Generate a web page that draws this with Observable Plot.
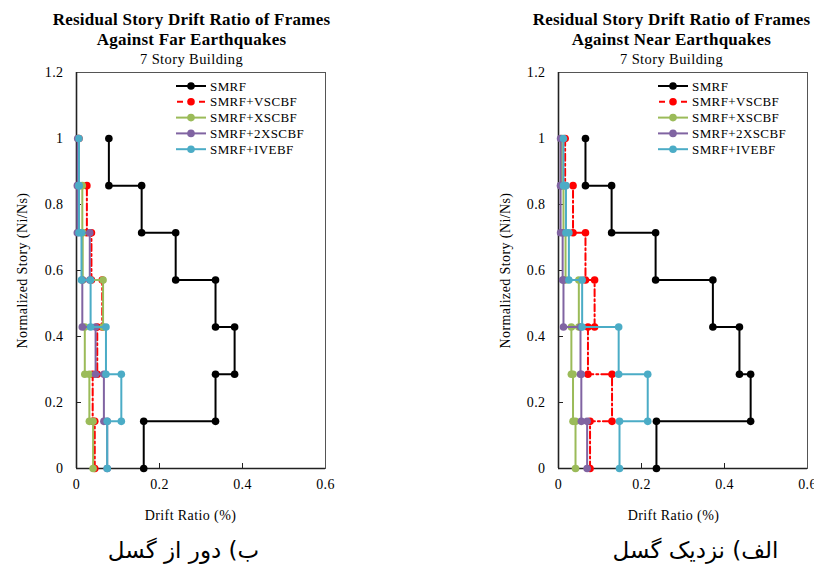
<!DOCTYPE html>
<html><head><meta charset="utf-8">
<script src="https://cdn.jsdelivr.net/npm/d3@7"></script>
<script src="https://cdn.jsdelivr.net/npm/@observablehq/plot@0.6"></script>
<style>
body{margin:0;background:#fff;}
#wrap{display:flex;width:814px;height:568px;overflow:hidden;background:#fff;}
#wrap svg{flex:none;overflow:visible;}
</style></head><body><div id="wrap"></div>
<script>
// ---------------- data ----------------
const storyCount = 7;
const seriesNames = ["SMRF", "SMRF+VSCBF", "SMRF+XSCBF", "SMRF+2XSCBF", "SMRF+IVEBF"];
const seriesColors = ["#000000", "#FF0000", "#9BBB59", "#8064A2", "#4BACC6"];
const seriesDash = [null, "7,3,2,3", null, null, null];

// residual drift ratio (%) per story 1..7 — far-field earthquakes
const farSMRF   = [0.162, 0.335, 0.381, 0.335, 0.239, 0.157, 0.078];
const farVSCBF  = [0.044, 0.039, 0.050, 0.062, 0.036, 0.025, 0.006];
const farXSCBF  = [0.040, 0.031, 0.020, 0.064, 0.015, 0.014, 0.004];
const far2XSCBF = [0.074, 0.066, 0.046, 0.014, 0.032, 0.002, 0.003];
const farIVEBF  = [0.074, 0.108, 0.071, 0.034, 0.012, 0.006, 0.006];

// near-field earthquakes
const nearSMRF   = [0.236, 0.463, 0.436, 0.372, 0.234, 0.128, 0.065];
const nearVSCBF  = [0.076, 0.129, 0.071, 0.087, 0.065, 0.035, 0.016];
const nearXSCBF  = [0.041, 0.035, 0.031, 0.049, 0.017, 0.012, 0.008];
const near2XSCBF = [0.069, 0.055, 0.053, 0.012, 0.010, 0.005, 0.005];
const nearIVEBF  = [0.147, 0.215, 0.145, 0.057, 0.025, 0.018, 0.012];

const xTicks = [0, 0.2, 0.4, 0.6];
const xTickLabels = ["0", "0.2", "0.4", "0.6"];
const yTicks = [0, 0.2, 0.4, 0.6, 0.8, 1, 1.2];
const yTickLabels = ["0", "0.2", "0.4", "0.6", "0.8", "1", "1.2"];

const titleLine1 = "Residual Story Drift Ratio of Frames";
const farTitle2 = "Against Far Earthquakes";
const nearTitle2 = "Against Near Earthquakes";
const subtitle = "7 Story Building";
const xLabel = "Drift Ratio (%)";
const yLabel = "Normalized Story (Ni/Ns)";
const farCaption = "ب) دور از گسل";
const nearCaption = "الف) نزدیک گسل";

// ---------------- helpers ----------------
const SERIF = "'Liberation Serif', 'Times New Roman', serif";

function stepRows(drifts) {
  const rows = [];
  drifts.forEach((d, i) => {
    rows.push({x: d, y: i / storyCount});
    rows.push({x: d, y: (i + 1) / storyCount});
  });
  return rows;
}

function innerTicks(index, {x, y}, values, dims) {
  const g = d3.create("svg:g").attr("stroke", "#222").attr("stroke-width", 1);
  const yb = dims.height - dims.marginBottom, xl = dims.marginLeft;
  for (const t of xTicks.slice(1, -1))
    g.append("line").attr("x1", Math.round(x(t)) + 0.5).attr("x2", Math.round(x(t)) + 0.5).attr("y1", yb).attr("y2", yb - 5);
  for (const t of yTicks.slice(1, -1))
    g.append("line").attr("y1", Math.round(y(t)) + 0.5).attr("y2", Math.round(y(t)) + 0.5).attr("x1", xl).attr("x2", xl + 5);
  return g.node();
}

function legendMark(index, scales, values, dims) {
  const g = d3.create("svg:g");
  const x0 = dims.marginLeft + 100, x1 = x0 + 30, top = dims.marginTop + 14, step = 15.8;
  seriesNames.forEach((name, i) => {
    const yy = top + i * step;
    const line = g.append("line").attr("x1", x0).attr("x2", x1).attr("y1", yy).attr("y2", yy)
      .attr("stroke", seriesColors[i]).attr("stroke-width", 2);
    if (seriesDash[i]) line.attr("stroke-dasharray", "6,5").attr("stroke-dashoffset", -1);
    g.append("circle").attr("cx", (x0 + x1) / 2).attr("cy", yy).attr("r", 3.8).attr("fill", seriesColors[i]);
    g.append("text").attr("x", x1 + 4).attr("y", yy).attr("dy", "0.35em")
      .attr("text-anchor", "start")
      .attr("font-family", SERIF).attr("font-size", 13).attr("fill", "#000").text(name);
  });
  return g.node();
}

function panel({series, title2, caption, marginLeft, marginRight, titleDx, labelDx, captionDx, yLabelDx}) {
  const marks = [
    Plot.frame({stroke: "#555", strokeWidth: 1}),
    Plot.ruleY([0], {stroke: "#222", strokeWidth: 1.6}),
    Plot.ruleX([0], {stroke: "#222", strokeWidth: 1.6}),
    innerTicks,
    Plot.axisX(xTicks, {tickSize: 0, tickPadding: 11, tickFormat: (d, i) => xTickLabels[i], fontSize: 14, fontFamily: SERIF, label: null}),
    Plot.axisY(yTicks, {tickSize: 0, tickPadding: 13, tickFormat: (d, i) => yTickLabels[i], fontSize: 14, fontFamily: SERIF, label: null})
  ];
  series.forEach((drifts, i) => {
    const rows = stepRows(drifts);
    marks.push(Plot.line(rows, {x: "x", y: "y", stroke: seriesColors[i], strokeWidth: 2, strokeDasharray: seriesDash[i] ?? undefined, curve: "linear"}));
    marks.push(Plot.dot(rows, {x: "x", y: "y", fill: seriesColors[i], r: 3.8, stroke: "none"}));
  });
  marks.push(legendMark);
  // titles
  marks.push(Plot.text([titleLine1], {frameAnchor: "top-left", dx: titleDx, dy: -48, text: d => d, textAnchor: "middle", lineAnchor: "bottom", fontWeight: "bold", fontSize: 17, fontFamily: SERIF, fill: "#000"}));
  marks.push(Plot.text([title2], {frameAnchor: "top-left", dx: titleDx, dy: -28, text: d => d, textAnchor: "middle", lineAnchor: "bottom", fontWeight: "bold", fontSize: 17, fontFamily: SERIF, fill: "#000"}));
  marks.push(Plot.text([subtitle], {frameAnchor: "top-left", dx: titleDx, dy: -9, text: d => d, textAnchor: "middle", lineAnchor: "bottom", fontSize: 14.5, fontFamily: SERIF, fill: "#000"}));
  marks.push(Plot.text([xLabel], {frameAnchor: "bottom-left", dx: labelDx, dy: 51, text: d => d, textAnchor: "middle", lineAnchor: "bottom", fontSize: 14, fontFamily: SERIF, fill: "#000"}));
  marks.push(Plot.text([yLabel], {frameAnchor: "left", dx: yLabelDx, rotate: -90, text: d => d, textAnchor: "middle", lineAnchor: "middle", fontSize: 14, fontFamily: SERIF, fill: "#000"}));
  marks.push(Plot.text([caption], {frameAnchor: "bottom-left", dx: captionDx, dy: 82, text: d => d, textAnchor: "middle", lineAnchor: "middle", fontSize: 23, fontFamily: "'DejaVu Sans', sans-serif", fill: "#000"}));

  const svg = Plot.plot({
    width: 407, height: 568,
    marginLeft, marginRight, marginTop: 72, marginBottom: 100,
    x: {domain: [0, 0.6], axis: null},
    y: {domain: [0, 1.2], axis: null},
    style: {background: "#fff", overflow: "visible"},
    marks
  });
  // slight tracking on the Latin (serif) texts, as in the reference rendering
  svg.querySelectorAll("text").forEach(t => {
    if (!/[\u0600-\u06FF]/.test(t.textContent)) t.style.letterSpacing = t.getAttribute("font-weight") === "bold" || t.closest("[font-weight=bold]") ? "0.25px" : "0.4px";
  });
  return svg;
}

const wrap = document.getElementById("wrap");
wrap.append(panel({
  series: [farSMRF, farVSCBF, farXSCBF, far2XSCBF, farIVEBF],
  title2: farTitle2, caption: farCaption,
  marginLeft: 76, marginRight: 82, titleDx: 115, labelDx: 114, captionDx: 107, yLabelDx: -54
}));
wrap.append(panel({
  series: [nearSMRF, nearVSCBF, nearXSCBF, near2XSCBF, nearIVEBF],
  title2: nearTitle2, caption: nearCaption,
  marginLeft: 151, marginRight: 7, titleDx: 113, labelDx: 115, captionDx: 137, yLabelDx: -53
}));
</script></body></html>
